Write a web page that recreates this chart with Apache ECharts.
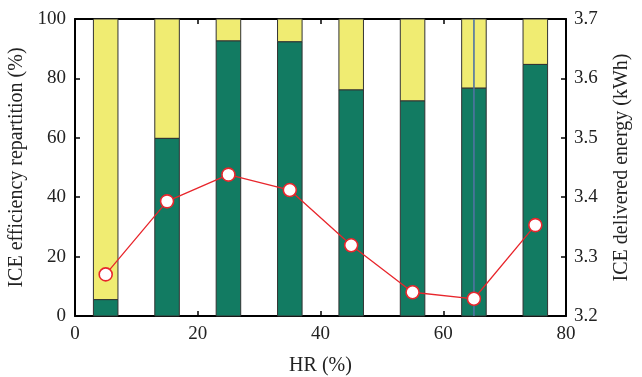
<!DOCTYPE html>
<html><head><meta charset="utf-8">
<script src="https://cdn.jsdelivr.net/npm/echarts@6/dist/echarts.min.js"></script>
<style>html,body{margin:0;padding:0;background:#fff}#c{width:642px;height:377px}</style>
</head><body><div id="c"></div>
<script>
const hr = [5, 15, 25, 35, 45, 55, 65, 75];
const greenShare = [5.5, 59.8, 92.6, 92.3, 76.1, 72.4, 76.7, 84.7];
const energy = [3.270, 3.393, 3.438, 3.412, 3.319, 3.240, 3.229, 3.353];
const markerHR = [65];
const barHalfWidth = 2;

const FONT = 'Liberation Serif';
const C_GREEN = '#127b62', C_YELLOW = '#f0ec72', C_RED = '#e8262c';

function rectItem(fill) {
  return function (params, api) {
    const x = api.value(0), lo = api.value(1), hi = api.value(2);
    const p1 = api.coord([x - barHalfWidth, hi]);
    const p2 = api.coord([x + barHalfWidth, lo]);
    return {
      type: 'rect',
      shape: { x: p1[0], y: p1[1], width: p2[0] - p1[0], height: p2[1] - p1[1] },
      style: { fill: fill, stroke: '#333', lineWidth: 1 }
    };
  };
}

const greenData = hr.map((x, i) => [x, 0, greenShare[i]]);
const yellowData = hr.map((x, i) => [x, greenShare[i], 100]);

const chart = echarts.init(document.getElementById('c'), null, { renderer: 'canvas' });
const axisText = { color: '#222', fontFamily: FONT, fontSize: 19 };
const nameText = { color: '#222', fontFamily: FONT, fontSize: 20 };
const lineS = { color: '#000', width: 2 };
const tickS = { show: true, inside: true, length: 5, lineStyle: { color: '#000', width: 1.5 } };
chart.setOption({
  animation: false,
  textStyle: { fontFamily: FONT },
  grid: { left: 75, right: 76, top: 19, bottom: 61, containLabel: false, outerBoundsMode: 'none' },
  xAxis: [
    { type: 'value', min: 0, max: 80, interval: 20, position: 'bottom',
      name: 'HR (%)', nameLocation: 'middle', nameGap: 40,
      nameTextStyle: nameText,
      axisLine: { show: true, onZero: false, lineStyle: lineS },
      axisTick: tickS,
      axisLabel: Object.assign({ margin: 9 }, axisText),
      splitLine: { show: false } },
    { type: 'value', min: 0, max: 80, interval: 20, position: 'top',
      axisLine: { show: true, onZero: false, lineStyle: lineS },
      axisTick: tickS,
      axisLabel: { show: false }, splitLine: { show: false } }
  ],
  yAxis: [
    { type: 'value', min: 0, max: 100, interval: 20, position: 'left',
      name: 'ICE efficiency repartition (%)', nameLocation: 'middle', nameGap: 42, nameRotate: 90,
      nameTextStyle: nameText,
      axisLine: { show: true, onZero: false, lineStyle: lineS },
      axisTick: tickS,
      axisLabel: Object.assign({ margin: 9 }, axisText),
      splitLine: { show: false } },
    { type: 'value', min: 3.2, max: 3.7, interval: 0.1, position: 'right',
      name: 'ICE delivered energy (kWh)', nameLocation: 'middle', nameGap: 46, nameRotate: 90,
      nameTextStyle: nameText,
      axisLine: { show: true, onZero: false, lineStyle: lineS },
      axisTick: tickS,
      axisLabel: Object.assign({ margin: 8, formatter: v => v.toFixed(1) }, axisText),
      splitLine: { show: false } }
  ],
  series: [
    { type: 'custom', xAxisIndex: 0, yAxisIndex: 0, data: yellowData,
      encode: { x: 0, y: [1, 2] }, renderItem: rectItem(C_YELLOW), z: 2 },
    { type: 'custom', xAxisIndex: 0, yAxisIndex: 0, data: greenData,
      encode: { x: 0, y: [1, 2] }, renderItem: rectItem(C_GREEN), z: 2 },
    { type: 'line', xAxisIndex: 0, yAxisIndex: 0,
      data: [[markerHR[0], 0], [markerHR[0], 100]], symbol: 'none',
      lineStyle: { color: '#4f73a3', width: 1.6 }, z: 3 },
    { type: 'line', xAxisIndex: 0, yAxisIndex: 1,
      data: hr.map((x, i) => [x, energy[i]]),
      symbol: 'circle', symbolSize: 13,
      lineStyle: { color: C_RED, width: 1.3 },
      itemStyle: { color: '#fff', borderColor: C_RED, borderWidth: 1.6 }, z: 5 }
  ]
});
</script></body></html>
